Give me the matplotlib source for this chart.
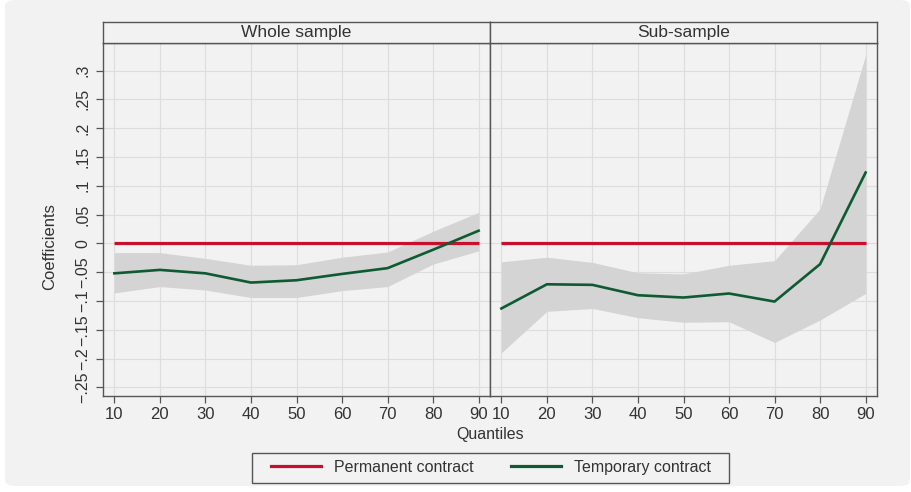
import matplotlib
matplotlib.use("Agg")
import matplotlib.pyplot as plt
from matplotlib.patches import FancyBboxPatch, Rectangle
from matplotlib.lines import Line2D

plt.rcParams['font.family'] = ['Liberation Sans', 'DejaVu Sans']

# data
quantiles = [10, 20, 30, 40, 50, 60, 70, 80, 90]
panels = ["Whole sample", "Sub-sample"]

whole_coef = [-0.052, -0.046, -0.052, -0.068, -0.064, -0.053, -0.043, -0.011, 0.022]
whole_hi = [-0.016, -0.016, -0.026, -0.038, -0.037, -0.024, -0.015, 0.021, 0.054]
whole_lo = [-0.086, -0.075, -0.081, -0.094, -0.094, -0.082, -0.075, -0.036, -0.013]

sub_coef = [-0.113, -0.071, -0.072, -0.090, -0.094, -0.087, -0.101, -0.036, 0.123]
sub_hi = [-0.032, -0.024, -0.033, -0.051, -0.053, -0.038, -0.030, 0.060, 0.327]
sub_lo = [-0.190, -0.118, -0.113, -0.129, -0.137, -0.136, -0.172, -0.133, -0.087]

permanent = [0] * len(quantiles)

ytick_vals = [-0.25, -0.2, -0.15, -0.1, -0.05, 0, 0.05, 0.1, 0.15, 0.2, 0.25, 0.3]
ytick_labels = ["\u2212.25", "\u2212.2", "\u2212.15", "\u2212.1", "\u2212.05", "0",
                ".05", ".1", ".15", ".2", ".25", ".3"]

RED = "#c8102e"
GREEN = "#0e5a32"
BAND = "#d4d4d4"
BG = "#f2f2f2"
EDGE = "#555555"
TXT = "#333333"

W, H = 911, 492
fig = plt.figure(figsize=(W / 100, H / 100), dpi=100, facecolor="white")

# rounded grey card behind everything
fig.patches.append(FancyBboxPatch((5 / W, 6 / H), 905 / W, 486 / H,
                                  boxstyle="round,pad=0,rounding_size=0.012",
                                  transform=fig.transFigure, facecolor=BG,
                                  edgecolor="none", zorder=-10))

top, bottom = 43, 396
strip_top = 22
lefts = [103, 490]
width = 387

series = [(whole_coef, whole_hi, whole_lo), (sub_coef, sub_hi, sub_lo)]

for i, (name, (coef, hi, lo)) in enumerate(zip(panels, series)):
    ax = fig.add_axes([lefts[i] / W, (H - bottom) / H, width / W, (bottom - top) / H])
    ax.set_facecolor(BG)
    ax.fill_between(quantiles, lo, hi, color=BAND, linewidth=0, zorder=2)
    ax.plot(quantiles, permanent, color=RED, lw=2.3, zorder=3, solid_capstyle="butt")
    ax.plot(quantiles, coef, color=GREEN, lw=1.9, zorder=4)

    ax.set_xlim(7.5, 92.5)
    ax.set_ylim(-0.265, 0.348)
    ax.set_xticks(quantiles)
    ax.set_yticks(ytick_vals)
    ax.grid(True, color="#dddddd", lw=0.8, zorder=0)
    ax.set_axisbelow(True)
    for s in ax.spines.values():
        s.set_color(EDGE)
        s.set_linewidth(1.0)
    ax.tick_params(axis="x", length=5, width=0.9, color=EDGE, labelsize=12,
                   labelcolor=TXT, pad=3)
    if i == 0:
        ax.set_yticklabels(ytick_labels, rotation=90, va="center")
        ax.tick_params(axis="y", length=5, width=0.9, color=EDGE, labelsize=11.5,
                       labelcolor=TXT, pad=4)
    else:
        ax.tick_params(axis="y", length=0, labelleft=False)

    # panel strip
    sax = fig.add_axes([lefts[i] / W, (H - top) / H, width / W, (top - strip_top) / H])
    sax.set_facecolor(BG)
    sax.set_xticks([])
    sax.set_yticks([])
    for s in sax.spines.values():
        s.set_color(EDGE)
        s.set_linewidth(1.0)
    sax.text(0.5, 0.5, name, ha="center", va="center", fontsize=12.5, color=TXT,
             transform=sax.transAxes)

fig.text(50 / W, (H - 247) / H, "Coefficients", ha="center", va="center",
         rotation=90, fontsize=12, color=TXT)
fig.text(490 / W, (H - 435) / H, "Quantiles", ha="center", va="center",
         fontsize=11.5, color=TXT)

handles = [Line2D([], [], color=RED, lw=2.3), Line2D([], [], color=GREEN, lw=2.3)]
leg = fig.legend(handles, ["Permanent contract", "Temporary contract"], ncol=2,
                 loc="center", bbox_to_anchor=(491 / W, (H - 467.5) / H),
                 frameon=False, fontsize=11.5, handlelength=3.1,
                 handletextpad=0.8, columnspacing=2.4, borderpad=0.5)
for t in leg.get_texts():
    t.set_color(TXT)

# legend frame drawn by hand so it can be wider than its contents
fig.patches.append(Rectangle((252 / W, (H - 483) / H), 477 / W, 30.5 / H,
                             transform=fig.transFigure, facecolor=BG,
                             edgecolor=EDGE, lw=1.0, zorder=-5))

fig.savefig("out.png", dpi=100, facecolor="white")
